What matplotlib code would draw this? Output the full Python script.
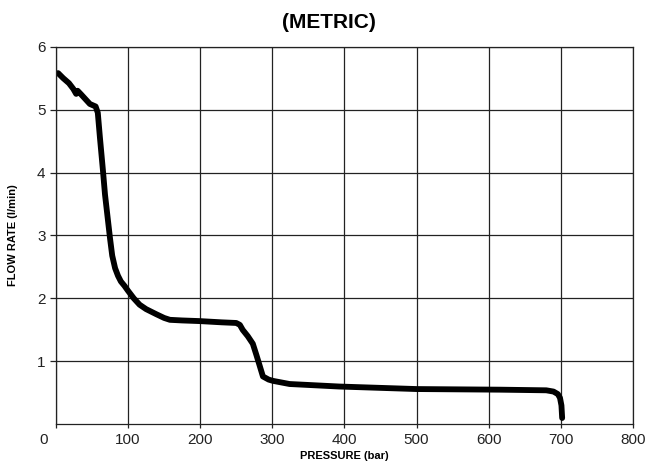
import matplotlib
matplotlib.use("Agg")
import matplotlib.pyplot as plt
import matplotlib.transforms as mtransforms

# pressure (bar) vs flow rate (l/min)
pressure = [3, 10, 18, 24, 28, 30, 35, 47, 55, 58, 61, 65, 68, 72, 75, 78, 82, 86, 90, 95,
            100, 108, 116, 125, 139, 150, 158, 175, 199, 230, 250, 255, 259, 266, 273, 278,
            282, 287, 295, 301, 324, 393, 500, 616, 680, 690, 696, 699, 701, 702]
flow = [5.58, 5.50, 5.42, 5.33, 5.25, 5.30, 5.24, 5.09, 5.05, 4.95, 4.55, 4.05, 3.65, 3.25,
        2.95, 2.68, 2.48, 2.36, 2.27, 2.20, 2.12, 2.00, 1.90, 1.83, 1.75, 1.69, 1.66, 1.65,
        1.64, 1.62, 1.61, 1.58, 1.50, 1.40, 1.28, 1.10, 0.95, 0.76, 0.71, 0.69, 0.64, 0.60,
        0.56, 0.55, 0.54, 0.52, 0.48, 0.42, 0.30, 0.10]

x_ticks = [0, 100, 200, 300, 400, 500, 600, 700, 800]
y_ticks = [1, 2, 3, 4, 5, 6]

plt.rcParams['font.family'] = ['Liberation Sans', 'DejaVu Sans']

fig = plt.figure(figsize=(6.57, 4.66), dpi=100)
ax = fig.add_axes([0.0852, 0.0895, 0.878, 0.8103])

ax.plot(pressure, flow, color="black", linewidth=4.2, solid_capstyle="round",
        solid_joinstyle="round")

ax.set_xlim(0, 800)
ax.set_ylim(0, 6)
ax.set_xticks(x_ticks)
ax.set_yticks(y_ticks)
ax.grid(True, color="#222222", linewidth=0.9)
ax.set_axisbelow(True)
for s in ax.spines.values():
    s.set_color("#222222")
    s.set_linewidth(0.9)
ax.tick_params(direction="out", length=4, width=0.9, labelsize=11, colors="#222222")
ax.tick_params(axis="x", length=3)

# the zero label sits left of the axis in the original
lbl0 = ax.get_xticklabels()[0]
lbl0.set_transform(lbl0.get_transform() + mtransforms.ScaledTranslation(-12 / 100, 0, fig.dpi_scale_trans))

ax.set_xlabel("PRESSURE (bar)", fontsize=8, fontweight="bold", labelpad=3)
ax.set_ylabel("FLOW RATE (l/min)", fontsize=8, fontweight="bold", labelpad=14)
fig.text(0.5, 0.952, "(METRIC)", ha="center", va="center", fontsize=15, fontweight="bold")

fig.savefig("out.png", dpi=100)
